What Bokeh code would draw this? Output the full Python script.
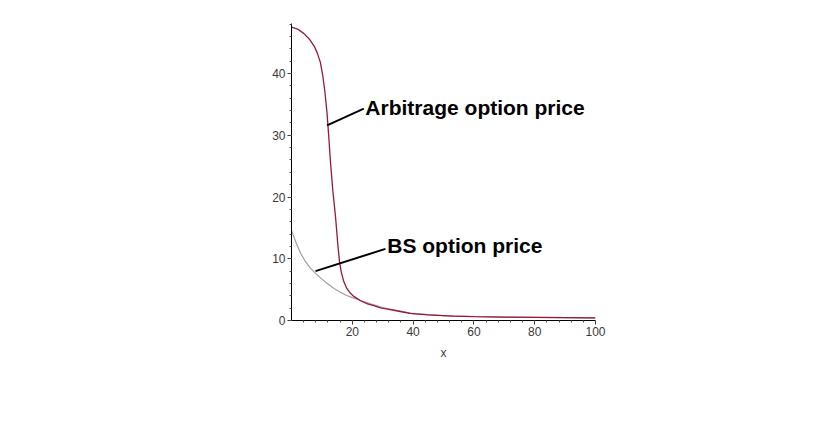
from bokeh.plotting import figure
from bokeh.models import FixedTicker, Range1d, Label
from bokeh.embed import file_html
from bokeh.resources import INLINE

# Data
arb_x = [0, 2, 4, 6, 7.5, 8.5, 9.5, 10.3, 11, 11.7, 12.3, 12.8, 13.6, 14.5, 15.2, 15.8, 16.4,
         17.2, 18.2, 19.4, 20.5, 22.7, 25, 27.1, 29.3, 32, 35.3, 39, 45, 53, 60, 70, 80, 90, 100]
arb_y = [47.5, 47.2, 46.5, 45.5, 44.4, 43.3, 41.8, 39.6, 37.0, 33.5, 29.5, 25.8, 21.0, 16.7, 12.5,
         9.5, 7.8, 6.3, 5.2, 4.4, 3.9, 3.2, 2.7, 2.4, 2.05, 1.8, 1.5, 1.15, 0.9, 0.7, 0.62, 0.56,
         0.52, 0.48, 0.42]
bs_x = [0, 1.5, 3, 4.5, 6, 8, 10, 12, 14, 16, 18, 20, 23, 26, 30, 40, 50, 60, 70, 80, 90, 100]
bs_y = [14.6, 12.6, 10.9, 9.6, 8.6, 7.6, 6.7, 5.9, 5.2, 4.6, 4.1, 3.7, 3.2, 2.7, 2.1, 1.1, 0.8,
        0.65, 0.55, 0.5, 0.45, 0.4]

x_ticks = [20, 40, 60, 80, 100]
y_ticks = [0, 10, 20, 30, 40]
x_minor = [i * 4 for i in range(1, 26)]
y_minor = [i * 2 for i in range(0, 25)]

arb_label = "Arbitrage option price"
bs_label = "BS option price"

p = figure(width=814, height=425, output_backend="svg", toolbar_location=None,
           x_range=Range1d(0, 100), y_range=Range1d(0, 48.1),
           min_border_left=291, min_border_right=219, min_border_top=23, min_border_bottom=105)
p.outline_line_color = None
p.xgrid.visible = False
p.ygrid.visible = False
p.background_fill_color = "white"

for ax in (p.xaxis[0], p.yaxis[0]):
    ax.axis_line_color = "black"
    ax.major_tick_line_color = "#333333"
    ax.minor_tick_line_color = "#555555"
    ax.major_tick_out = 4
    ax.major_tick_in = 0
    ax.minor_tick_out = 2
    ax.minor_tick_in = 0
    ax.major_label_text_font = "Liberation Sans"
    ax.major_label_text_font_size = "12px"
    ax.major_label_text_color = "#3a3a3a"
    ax.major_label_standoff = 2

p.xaxis.ticker = FixedTicker(ticks=x_ticks, minor_ticks=x_minor)
p.yaxis.ticker = FixedTicker(ticks=y_ticks, minor_ticks=y_minor)
p.xaxis.axis_label = "x"
p.xaxis.axis_label_text_font = "Liberation Sans"
p.xaxis.axis_label_text_font_style = "normal"
p.xaxis.axis_label_text_font_size = "12px"
p.xaxis.axis_label_text_color = "#3a3a3a"
p.xaxis.axis_label_standoff = 7

p.line(bs_x, bs_y, line_color="#a0a0a0", line_width=1.2)
p.line(arb_x, arb_y, line_color="#9a1838", line_width=1.3)

# annotation arrows
p.segment(x0=[23.8, 30.9], y0=[34.3, 11.6], x1=[11.7, 7.9], y1=[31.6, 8.0],
          line_color="black", line_width=2)

p.add_layout(Label(x=24.3, y=34.5, text=arb_label, text_font="Liberation Sans",
                   text_font_style="bold", text_font_size="21px", text_baseline="middle",
                   text_color="black"))
p.add_layout(Label(x=31.5, y=12.1, text=bs_label, text_font="Liberation Sans",
                   text_font_style="bold", text_font_size="21px", text_baseline="middle",
                   text_color="black"))

open("out.html", "w").write(file_html(p, INLINE))
